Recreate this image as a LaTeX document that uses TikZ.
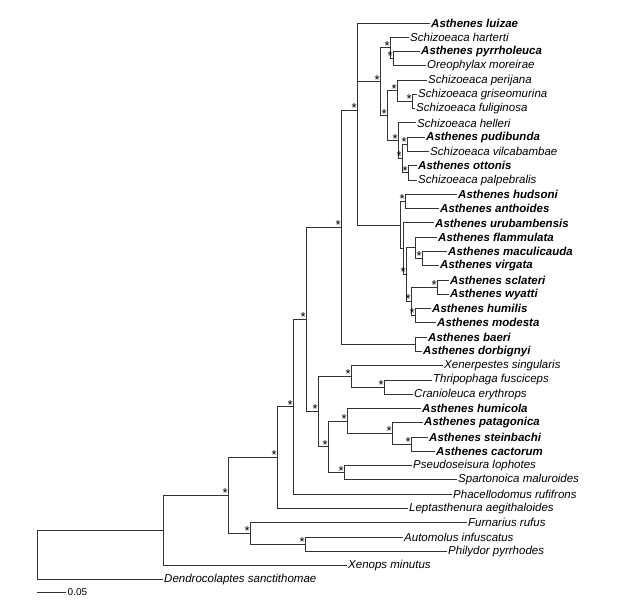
\documentclass[tikz,border=0pt]{standalone}
\usepackage{fontspec}
\setmainfont{Liberation Sans}
\begin{document}
\begin{tikzpicture}[
  x=1pt, y=-14.28pt,
  branch/.style={draw=black!80,line width=1pt},
  tax/.style={anchor=west,inner sep=1pt,font=\fontsize{11.5}{13}\selectfont\itshape},
  taxb/.style={tax,font=\fontsize{11.5}{13}\selectfont\bfseries\itshape},
  supp/.style={anchor=south east,inner sep=0pt,xshift=-0.2pt,yshift=-2.4pt,font=\fontsize{13}{14}\selectfont}
]
\useasboundingbox (0,-1.6106) rectangle (623,40.4062);
% tips (x of label, row)
\foreach \x/\i/\s/\name in {
  430/0/taxb/Asthenes luizae, 409/1/tax/Schizoeaca harterti,
  420/2/taxb/Asthenes pyrrholeuca, 426/3/tax/Oreophylax moreirae,
  427/4/tax/Schizoeaca perijana, 417/5/tax/Schizoeaca griseomurina,
  415/6/tax/Schizoeaca fuliginosa, 416/7/tax/Schizoeaca helleri,
  425/8/taxb/Asthenes pudibunda, 429/9/tax/Schizoeaca vilcabambae,
  417/10/taxb/Asthenes ottonis, 417/11/tax/Schizoeaca palpebralis,
  457/12/taxb/Asthenes hudsoni, 439/13/taxb/Asthenes anthoides,
  434/14/taxb/Asthenes urubambensis, 437/15/taxb/Asthenes flammulata,
  447/16/taxb/Asthenes maculicauda, 439/17/taxb/Asthenes virgata,
  449/18/taxb/Asthenes sclateri, 449/19/taxb/Asthenes wyatti,
  431/20/taxb/Asthenes humilis, 436/21/taxb/Asthenes modesta,
  427/22/taxb/Asthenes baeri, 422/23/taxb/Asthenes dorbignyi,
  443/24/tax/Xenerpestes singularis, 432/25/tax/Thripophaga fusciceps,
  413/26/tax/Cranioleuca erythrops, 421/27/taxb/Asthenes humicola,
  423/28/taxb/Asthenes patagonica, 428/29/taxb/Asthenes steinbachi,
  435/30/taxb/Asthenes cactorum, 412/31/tax/Pseudoseisura lophotes,
  457/32/tax/Spartonoica maluroides, 452/33/tax/Phacellodomus rufifrons,
  408/34/tax/Leptasthenura aegithaloides, 467/35/tax/Furnarius rufus,
  403/36/tax/Automolus infuscatus, 447/37/tax/Philydor pyrrhodes,
  347/38/tax/Xenops minutus, 163/39/tax/Dendrocolaptes sanctithomae}
  \node[\s] (t\i) at (\x,\i) {\name};
% internal nodes (x, mean row of children)
\foreach \n/\x/\r in {
  S2/393/2.5, S1/390/1.75, S5/412/5.5, S4/397/4.75, S8/407/8.5, S9/408/10.5,
  S7/402/9.5, S6/398/8.25, S3/387/6.5, S0/380/4.125,
  H1/405/12.5, F2/422/16.5, F1/415/15.75, SW/437/18.5, HM/415/20.5,
  H4/411/19.5, H3/406/17.625, H2/403/15.8125, H0/400/14.156,
  N2/357/6.094, BD/415/22.5, N1/341/14.297,
  TC/384/25.5, Ng/351/24.75, Nk/411/29.5, Nj/392/28.75, Ni/347/27.875,
  Np/344/31.5, Nh/328/29.6875, Nf/318/27.22, Ne/306/20.76, Nd/293/26.88,
  Nc/277/30.44, Na2/305/36.5, Nfu/250/35.75, Nb/228/33.095, Na/163/35.55,
  root/37/37.275}
  \coordinate (\n) at (\x,\r);
% branches
\foreach \p/\c in {
  N2/t0.west, N2/S0, N2/H0, S0/S1, S0/S3, S1/t1.west, S1/S2,
  S2/t2.west, S2/t3.west, S3/S4, S3/S6, S4/t4.west, S4/S5,
  S5/t5.west, S5/t6.west, S6/t7.west, S6/S7, S7/S8, S7/S9,
  S8/t8.west, S8/t9.west, S9/t10.west, S9/t11.west,
  H0/H1, H0/H2, H1/t12.west, H1/t13.west, H2/t14.west, H2/H3,
  H3/F1, H3/H4, F1/t15.west, F1/F2, F2/t16.west, F2/t17.west,
  H4/SW, H4/HM, SW/t18.west, SW/t19.west, HM/t20.west, HM/t21.west,
  N1/N2, N1/BD, BD/t22.west, BD/t23.west,
  Ne/N1, Ne/Nf, Nf/Ng, Nf/Nh, Ng/t24.west, Ng/TC, TC/t25.west, TC/t26.west,
  Nh/Ni, Nh/Np, Ni/t27.west, Ni/Nj, Nj/t28.west, Nj/Nk,
  Nk/t29.west, Nk/t30.west, Np/t31.west, Np/t32.west,
  Nd/Ne, Nd/t33.west, Nc/Nd, Nc/t34.west, Nb/Nc, Nb/Nfu,
  Nfu/t35.west, Nfu/Na2, Na2/t36.west, Na2/t37.west,
  Na/Nb, Na/t38.west, root/Na, root/t39.west}
  \draw[branch] (\p) |- (\c);
% support stars
\foreach \n in {N1,N2,S0,S1,S2,S3,S4,S5,S6,S7,S8,S9,H1,H3,F2,H4,SW,HM,
  Ne,Nf,Ng,TC,Nh,Ni,Nj,Nk,Np,Nd,Nc,Nb,Nfu,Na2}
  \node[supp] at (\n) {*};
% scale bar
\coordinate (sb0) at (37,39.85);
\coordinate (sb1) at (66,39.85);
\draw[branch] (sb0) -- (sb1);
\node[anchor=west,inner sep=1.5pt,font=\fontsize{10}{11}\selectfont] (sblabel) at (sb1) {0.05};
\end{tikzpicture}
\end{document}
